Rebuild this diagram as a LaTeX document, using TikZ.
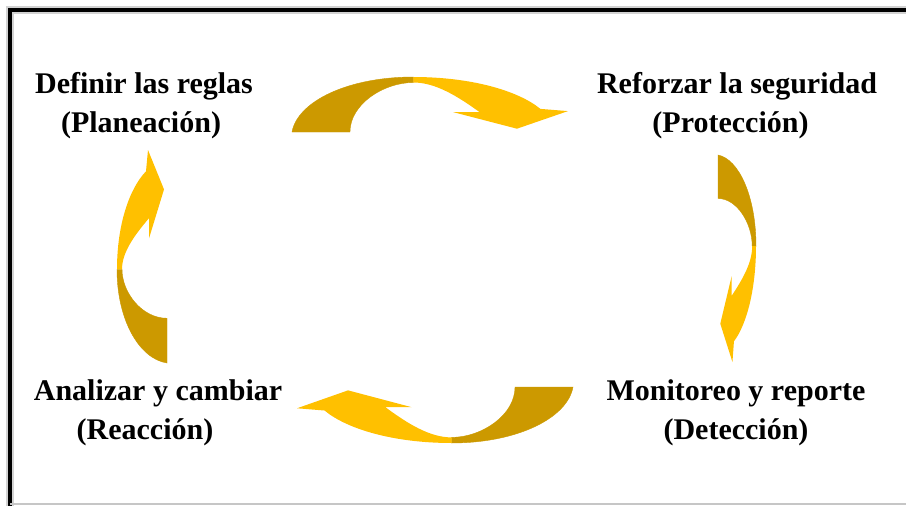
\documentclass[tikz,border=0pt]{standalone}
\usepackage{fontspec}
\setmainfont{Liberation Serif}
\usetikzlibrary{calc}
\definecolor{golddark}{RGB}{204,153,0}
\definecolor{goldlight}{RGB}{255,192,0}
\newcommand{\bentarrow}[1]{%
  \begin{scope}[#1]
    \fill[golddark,draw=golddark,line width=0.4pt] (0,0) .. controls (0.02,0.55) and (0.2,1) .. (0.44,1)
      -- (0.44,0.9) .. controls (0.33,0.9) and (0.21,0.5) .. (0.21,0) -- cycle;
    \fill[goldlight] (0.44,1) .. controls (0.65,1) and (0.82,0.75) .. (0.9,0.42)
      -- (1,0.38) -- (0.815,0.06) -- (0.585,0.36) -- (0.68,0.36)
      .. controls (0.6,0.65) and (0.52,0.9) .. (0.44,0.9) -- cycle;
  \end{scope}}

\begin{document}
\begin{tikzpicture}[x=1pt,y=-1pt,
    lbl/.style={font=\fontsize{30}{39}\selectfont\bfseries,align=center,inner sep=0pt}]
      \useasboundingbox (0,0) rectangle (906,506);
      \fill[white] (0,0) rectangle (906,506);
      \coordinate (corner) at (10,10);
      \coordinate (leftend) at (10,506);
      \coordinate (topend) at (906,10);
      \draw[gray!35,line width=8pt] (leftend) -- (corner) -- (topend);
      \draw[line width=4pt] (leftend) -- (corner) -- (topend);
      \draw[gray!45,line width=2pt] (10,504) -- (906,504);
      \node[lbl] (plan) at (144,106) {Definir las reglas\\\hbox{(Planeación)\kern6pt}};
      \node[lbl] (prot) at (737,106) {Reforzar la seguridad\\\hbox{(Protección)\kern13pt}};
      \node[lbl] (detc) at (736,413) {Monitoreo y reporte\\(Detección)};
      \node[lbl] (reac) at (158,413) {Analizar y cambiar\\\hbox{(Reacción)\kern26pt}};
      \bentarrow{shift={(292,132)},xscale=276,yscale=-55}
      \bentarrow{shift={(718,155)},rotate=-90,xscale=207,yscale=-38}
      \bentarrow{shift={(573,387)},xscale=-276,yscale=56}
      \bentarrow{shift={(167,363)},rotate=90,xscale=213,yscale=-50}
\end{tikzpicture}
\end{document}
